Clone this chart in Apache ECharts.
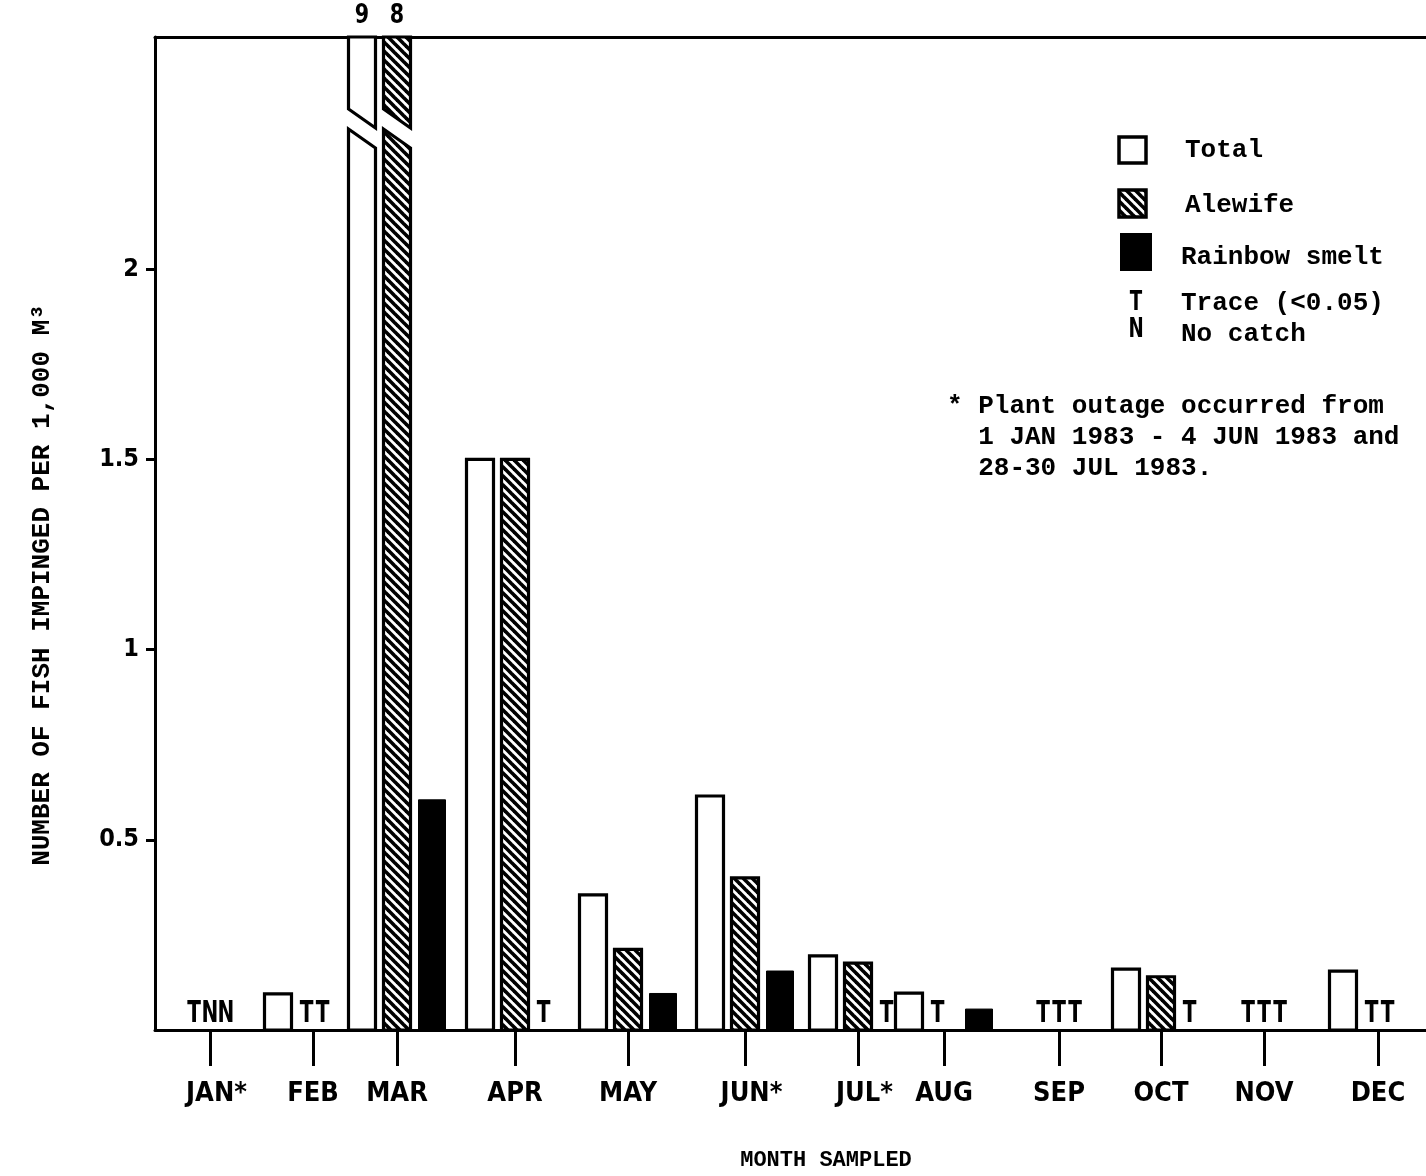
<!DOCTYPE html>
<html>
<head>
<meta charset="utf-8">
<script src="https://cdn.jsdelivr.net/npm/echarts@6/dist/echarts.min.js"></script>
<style>
html,body{margin:0;padding:0;background:#fff;}
#chart{width:1426px;height:1176px;}
</style>
</head>
<body>
<div id="chart"></div>
<script>
// ---------------- data ----------------
const months   = ['JAN*','FEB','MAR','APR','MAY','JUN*','JUL*','AUG','SEP','OCT','NOV','DEC'];
// position of each month's sample along the (irregularly spaced) x axis
const monthPos = [55, 158, 242, 360, 473, 590, 703, 789, 904, 1006, 1109, 1223];
// 'T' = trace (<0.05), 'N' = no catch
const total    = ['T', 0.095, 9, 1.50, 0.355, 0.615, 0.195, 0.097, 'T', 0.16, 'T', 0.155];
const alewife  = ['N', 'T', 8, 1.50, 0.212, 0.40, 0.176, 'T', 'T', 0.14, 'T', 'T'];
const smelt    = ['N', 'T', 0.605, 'T', 0.096, 0.155, 'T', 0.055, 'T', 'T', 'T', 'T'];
const yTicks   = [0.5, 1, 1.5, 2];
const seriesNames = ['Total', 'Alewife', 'Rainbow smelt'];
const allSeries = [total, alewife, smelt];

// ---------------- styles ----------------
const Y_MAX = 2.61;
const X_MAX = 1271;
const BAR_W = 27;
const SLOT = [-35, 0, 35];
const LETTER_W = 16;
const GAP = 7;
const condFam = '"DejaVu Sans Condensed", "Liberation Sans Narrow", sans-serif';
const letterFont = 'bold 31px ' + condFam;
const mono = '"Liberation Mono", "DejaVu Sans Mono", monospace';
const monoFont = 'bold 26px ' + mono;

// hatch pattern
const P = 9;
const hc = document.createElement('canvas');
hc.width = P; hc.height = P;
const g = hc.getContext('2d');
g.fillStyle = '#fff'; g.fillRect(0, 0, P, P);
g.strokeStyle = '#000'; g.lineWidth = 3.6;
[[-2, -2, P + 2, P + 2], [-2, P - 2, 2, P + 2], [P - 2, -2, P + 2, 2]].forEach(l => {
  g.beginPath(); g.moveTo(l[0], l[1]); g.lineTo(l[2], l[3]); g.stroke();
});
const hatch = { image: hc, repeat: 'repeat' };
const fills = ['#fff', hatch, '#000'];

function letterX(m, s, tickX) {
  const codes = allSeries.map(a => typeof a[m] === 'string' ? 'L' : 'B');
  let r0 = s, r1 = s;
  while (r0 > 0 && codes[r0 - 1] === 'L') r0--;
  while (r1 < 2 && codes[r1 + 1] === 'L') r1++;
  const n = r1 - r0 + 1;
  if (r0 > 0) {
    const start = tickX + SLOT[r0 - 1] + BAR_W / 2 + GAP;
    return start + (s - r0 + 0.5) * LETTER_W;
  } else if (r1 < 2) {
    const end = tickX + SLOT[r1 + 1] - BAR_W / 2 - GAP;
    return end - (r1 - s + 0.5) * LETTER_W;
  }
  return tickX + (s - r0 - (n - 1) / 2) * LETTER_W;
}

function makeRender(s) {
  const vals = allSeries[s];
  return function (params, api) {
    const m = params.dataIndex;
    const v = vals[m];
    const c = api.coord([monthPos[m], 0]);
    const tickX = c[0], base = c[1];
    const top = params.coordSys.y;
    if (typeof v === 'string') {
      return { type: 'text', x: letterX(m, s, tickX), y: base - 1, scaleX: 0.72,
        style: { text: v, x: 0, y: 0, align: 'center', verticalAlign: 'bottom', font: letterFont, fill: '#000' } };
    }
    const cx = tickX + SLOT[s];
    const x0 = cx - BAR_W / 2, x1 = cx + BAR_W / 2;
    const st = { fill: fills[s], stroke: '#000', lineWidth: s === 2 ? 1 : 3.2 };
    if (v > Y_MAX) {
      return { type: 'group', children: [
        { type: 'polygon', shape: { points: [[x0, base], [x0, top + 92], [x1, top + 111], [x1, base]] }, style: st },
        { type: 'polygon', shape: { points: [[x0, top], [x0, top + 72], [x1, top + 91], [x1, top]] }, style: st },
        { type: 'text', x: cx, y: top - 8, scaleX: 0.85,
          style: { text: String(v), x: 0, y: 0, align: 'center', verticalAlign: 'bottom', font: 'bold 27px ' + condFam, fill: '#000' } }
      ]};
    }
    const yTop = api.coord([monthPos[m], v])[1];
    return { type: 'rect', shape: { x: x0, y: yTop, width: BAR_W, height: base - yTop }, style: st };
  };
}

const chart = echarts.init(document.getElementById('chart'), null, { renderer: 'canvas' });
const option = {
  backgroundColor: '#fff',
  animation: false,
  grid: { left: 155, right: 0, top: 37, bottom: 146 },
  xAxis: [{
    type: 'value', min: 0, max: X_MAX,
    axisLine: { show: true, lineStyle: { color: '#000', width: 3 } },
    axisTick: { show: true, customValues: monthPos, length: 36, lineStyle: { color: '#000', width: 3 } },
    axisLabel: {
      show: true, customValues: monthPos, margin: 50, color: '#000',
      fontFamily: condFam, fontWeight: 'bold', fontSize: 27,
      formatter: function (v) {
        const i = monthPos.indexOf(v);
        if (i < 0) return '';
        const name = months[i];
        return name.endsWith('*') ? '{sp|}' + name : name;
      },
      rich: { sp: { width: 13 } }
    },
    splitLine: { show: false }
  }, {
    type: 'value', position: 'top', min: 0, max: X_MAX,
    axisLine: { show: true, lineStyle: { color: '#000', width: 3 } },
    axisTick: { show: false }, axisLabel: { show: false }, splitLine: { show: false }
  }],
  yAxis: {
    type: 'value', min: 0, max: Y_MAX, interval: 0.5,
    axisLine: { show: true, lineStyle: { color: '#000', width: 3 } },
    axisTick: { show: true, customValues: yTicks, length: 9, lineStyle: { color: '#000', width: 3 } },
    axisLabel: { show: true, customValues: yTicks, margin: 16, color: '#000',
      fontFamily: condFam, fontWeight: 'bold', fontSize: 25 },
    splitLine: { show: false }
  },
  series: seriesNames.map((name, s) => ({
    type: 'custom', name: name, clip: false, xAxisIndex: 0,
    renderItem: makeRender(s),
    data: monthPos.map((p, i) => [p, typeof allSeries[s][i] === 'number' ? Math.min(allSeries[s][i], Y_MAX) : 0])
  })),
  graphic: [
    { type: 'text', rotation: Math.PI / 2, x: 42, y: 585,
      style: { text: 'NUMBER OF FISH IMPINGED PER 1,000 M\u00B3', font: monoFont, align: 'center', verticalAlign: 'middle', fill: '#000' } },
    { type: 'text', x: 826, y: 1160,
      style: { text: 'MONTH SAMPLED', font: 'bold 22px ' + mono, align: 'center', verticalAlign: 'middle', fill: '#000' } },
    // legend
    { type: 'rect', shape: { x: 1119, y: 137, width: 27, height: 26 }, style: { fill: '#fff', stroke: '#000', lineWidth: 3.5 } },
    { type: 'rect', shape: { x: 1119, y: 190, width: 27, height: 27 }, style: { fill: hatch, stroke: '#000', lineWidth: 3.5 } },
    { type: 'rect', shape: { x: 1120, y: 233, width: 32, height: 38 }, style: { fill: '#000' } },
    { type: 'text', x: 1136, y: 303, scaleX: 0.75, style: { text: 'T', x: 0, y: 0, font: 'bold 27px ' + condFam, align: 'center', verticalAlign: 'middle', fill: '#000' } },
    { type: 'text', x: 1136, y: 330, scaleX: 0.75, style: { text: 'N', x: 0, y: 0, font: 'bold 27px ' + condFam, align: 'center', verticalAlign: 'middle', fill: '#000' } },
    { type: 'text', x: 1185, y: 150, style: { text: 'Total', font: monoFont, verticalAlign: 'middle', fill: '#000' } },
    { type: 'text', x: 1185, y: 205, style: { text: 'Alewife', font: monoFont, verticalAlign: 'middle', fill: '#000' } },
    { type: 'text', x: 1181, y: 257, style: { text: 'Rainbow smelt', font: monoFont, verticalAlign: 'middle', fill: '#000' } },
    { type: 'text', x: 1181, y: 303, style: { text: 'Trace (<0.05)', font: monoFont, verticalAlign: 'middle', fill: '#000' } },
    { type: 'text', x: 1181, y: 334, style: { text: 'No catch', font: monoFont, verticalAlign: 'middle', fill: '#000' } },
    // footnote
    { type: 'text', x: 947, y: 391,
      style: { text: '* Plant outage occurred from\n  1 JAN 1983 - 4 JUN 1983 and\n  28-30 JUL 1983.', font: monoFont, lineHeight: 31, verticalAlign: 'top', fill: '#000' } }
  ]
};
chart.setOption(option);
</script>
</body>
</html>
